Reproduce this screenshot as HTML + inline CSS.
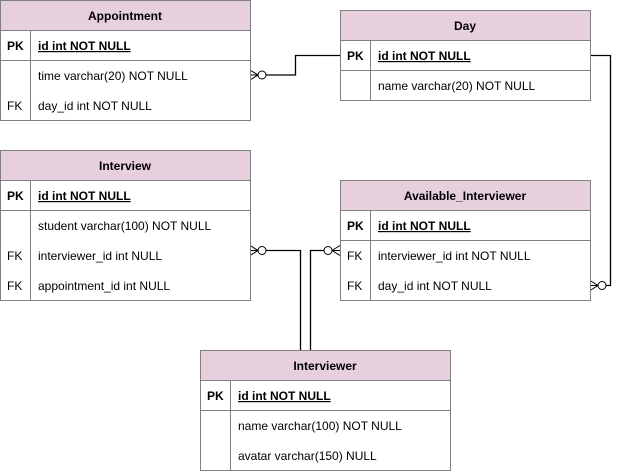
<!DOCTYPE html>
<html><head><meta charset="utf-8"><style>
body{margin:0;background:#fff;}
svg{display:block;font-family:"Liberation Sans",Arial,sans-serif;font-size:12px;}
</style></head><body>
<svg width="619" height="471" viewBox="0 0 619 471" xmlns="http://www.w3.org/2000/svg">
<defs>
<g id="cf"><path d="M0,-5 L8,0 L0,5 M0,0 L8,0" fill="none" stroke="#000" stroke-width="1"/><circle cx="12" cy="0" r="4" fill="#fff" stroke="#000" stroke-width="1"/></g>
</defs>
<g fill="none" stroke="#000" stroke-width="1.3">
<path d="M266,75 H295.5 V55.5 H340"/>
<path d="M590,55.5 H610.5 V285.5 H606"/>
<path d="M266,250.5 H300.5 V350"/>
<path d="M324,250.5 H310.5 V350"/>
</g>
<use href="#cf" transform="translate(250,75)"/>
<use href="#cf" transform="translate(590,285.5)"/>
<use href="#cf" transform="translate(250,250.5)"/>
<use href="#cf" transform="translate(340,250.5) scale(-1,1)"/>

<g stroke="#808080" stroke-width="1">
<!-- Appointment -->
<rect x="0.5" y="0.5" width="250" height="30" fill="#e6d0de"/>
<rect x="0.5" y="30.5" width="250" height="90" fill="#fff"/>
<line x1="0.5" y1="60.5" x2="250.5" y2="60.5"/>
<line x1="30.5" y1="30.5" x2="30.5" y2="120.5"/>
<!-- Day -->
<rect x="340.5" y="10.5" width="250" height="30" fill="#e6d0de"/>
<rect x="340.5" y="40.5" width="250" height="60" fill="#fff"/>
<line x1="340.5" y1="70.5" x2="590.5" y2="70.5"/>
<line x1="370.5" y1="40.5" x2="370.5" y2="100.5"/>
<!-- Interview -->
<rect x="0.5" y="150.5" width="250" height="30" fill="#e6d0de"/>
<rect x="0.5" y="180.5" width="250" height="120" fill="#fff"/>
<line x1="0.5" y1="210.5" x2="250.5" y2="210.5"/>
<line x1="30.5" y1="180.5" x2="30.5" y2="300.5"/>
<!-- Available -->
<rect x="340.5" y="180.5" width="250" height="30" fill="#e6d0de"/>
<rect x="340.5" y="210.5" width="250" height="90" fill="#fff"/>
<line x1="340.5" y1="240.5" x2="590.5" y2="240.5"/>
<line x1="370.5" y1="210.5" x2="370.5" y2="300.5"/>
<!-- Interviewer -->
<rect x="200.5" y="350.5" width="250" height="30" fill="#e6d0de"/>
<rect x="200.5" y="380.5" width="250" height="90" fill="#fff"/>
<line x1="200.5" y1="410.5" x2="450.5" y2="410.5"/>
<line x1="230.5" y1="380.5" x2="230.5" y2="470.5"/>
</g>

<g fill="#000">
<g font-weight="bold" text-anchor="middle">
<text x="125" y="20">Appointment</text>
<text x="465" y="30">Day</text>
<text x="125" y="170">Interview</text>
<text x="465" y="200">Available_Interviewer</text>
<text x="325" y="370">Interviewer</text>
</g>
<g font-weight="bold">
<text x="7" y="50">PK</text><text x="38" y="50" text-decoration="underline">id int NOT NULL</text>
<text x="347" y="60">PK</text><text x="378" y="60" text-decoration="underline">id int NOT NULL</text>
<text x="7" y="200">PK</text><text x="38" y="200" text-decoration="underline">id int NOT NULL</text>
<text x="347" y="230">PK</text><text x="378" y="230" text-decoration="underline">id int NOT NULL</text>
<text x="207" y="400">PK</text><text x="238" y="400" text-decoration="underline">id int NOT NULL</text>
</g>
<text x="38" y="80">time varchar(20) NOT NULL</text>
<text x="7" y="110">FK</text><text x="38" y="110">day_id int NOT NULL</text>
<text x="378" y="90">name varchar(20) NOT NULL</text>
<text x="38" y="230">student varchar(100) NOT NULL</text>
<text x="7" y="260">FK</text><text x="38" y="260">interviewer_id int NULL</text>
<text x="7" y="290">FK</text><text x="38" y="290">appointment_id int NULL</text>
<text x="347" y="260">FK</text><text x="378" y="260">interviewer_id int NOT NULL</text>
<text x="347" y="290">FK</text><text x="378" y="290">day_id int NOT NULL</text>
<text x="238" y="430">name varchar(100) NOT NULL</text>
<text x="238" y="460">avatar varchar(150) NULL</text>
</g>
</svg>
</body></html>
